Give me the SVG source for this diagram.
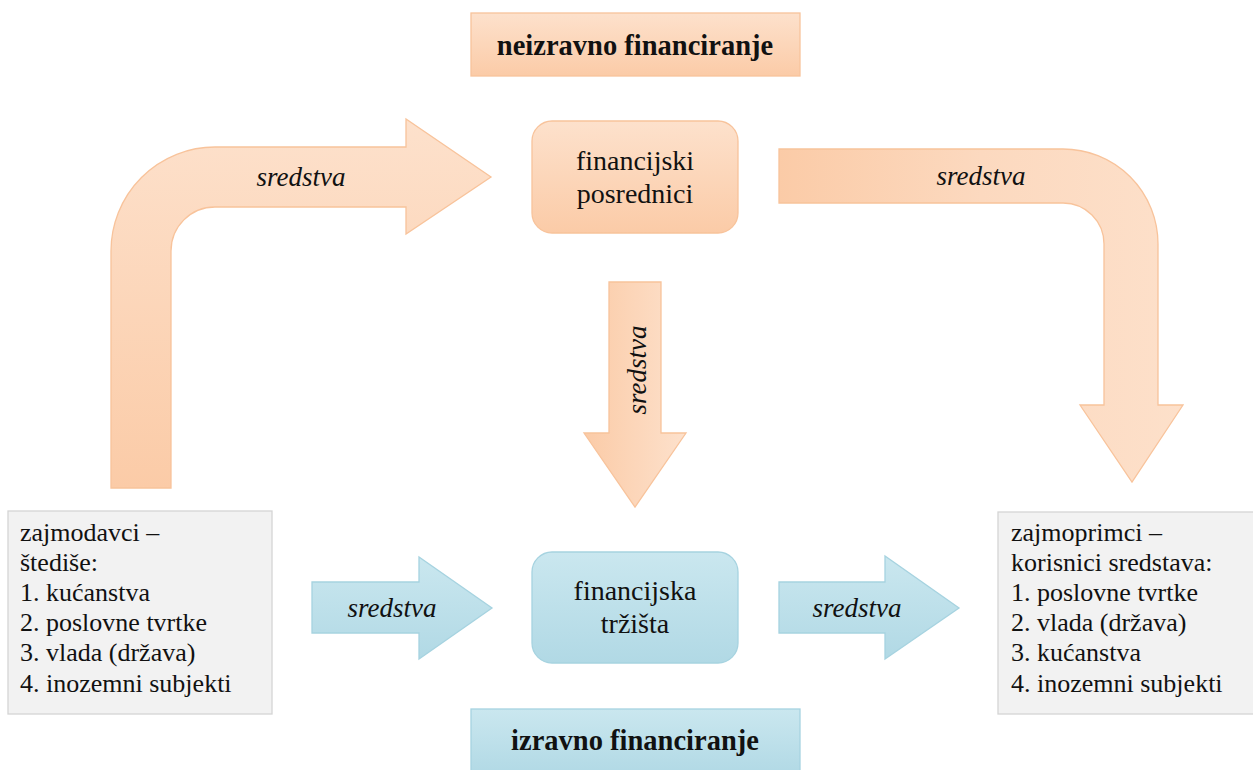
<svg xmlns="http://www.w3.org/2000/svg" width="1253" height="770" viewBox="0 0 1253 770" font-family="Liberation Serif">
<style>
text{font-family:Liberation Serif !important;fill:#111}
.ors{stroke:#f8c39b;stroke-width:1.3}
.blu{stroke:#a6d3e0;stroke-width:1.3}
.gry{fill:#f2f2f2;stroke:#d4d4d4;stroke-width:1.3}
.lab{font-style:italic;font-size:27px}
.nod{font-size:28px}
.ttl{font-size:28.5px;font-weight:bold}
.lst{font-size:26px}
</style>
<defs>
<linearGradient id="gOV" x1="0" y1="0" x2="0" y2="1"><stop offset="0" stop-color="#fde1cc"/><stop offset="1" stop-color="#fbcba7"/></linearGradient>
<linearGradient id="gBV" x1="0" y1="0" x2="0" y2="1"><stop offset="0" stop-color="#cae7ef"/><stop offset="1" stop-color="#b1d9e5"/></linearGradient>
<linearGradient id="gLeft" gradientUnits="userSpaceOnUse" x1="0" y1="119" x2="0" y2="488"><stop offset="0" stop-color="#fde1cc"/><stop offset="1" stop-color="#fbcba7"/></linearGradient>
<linearGradient id="gRight" gradientUnits="userSpaceOnUse" x1="779" y1="0" x2="1183" y2="0"><stop offset="0" stop-color="#fbcba7"/><stop offset="0.5" stop-color="#fcd9bf"/><stop offset="1" stop-color="#fde0ca"/></linearGradient>
<linearGradient id="gDown" gradientUnits="userSpaceOnUse" x1="584" y1="0" x2="686" y2="0"><stop offset="0" stop-color="#fbcba7"/><stop offset="1" stop-color="#fde1cc"/></linearGradient>
</defs>
<g id="connectors">
<path id="arrow-left" class="ors" fill="url(#gLeft)" d="M111,488 L111,251 A104,104 0 0 1 215,147 L406,147 L406,119 L491,177 L406,234 L406,207 L215,207 A44,44 0 0 0 171,251 L171,488 Z"/>
<text class="lab" style="font-family:Liberation Serif" x="301" y="186" text-anchor="middle">sredstva</text>
<path id="arrow-right" class="ors" fill="url(#gRight)" d="M779,149 L1063,149 A95,95 0 0 1 1158,244 L1158,405 L1183,405 L1132,482 L1080,405 L1104,405 L1104,244 A41,41 0 0 0 1063,203 L779,203 Z"/>
<text class="lab" style="font-family:Liberation Serif" x="981" y="185" text-anchor="middle">sredstva</text>
<path id="arrow-down" class="ors" fill="url(#gDown)" d="M609,282 L661,282 L661,433 L686,433 L635,507 L584,433 L609,433 Z"/>
<text class="lab" style="font-family:Liberation Serif" transform="translate(646,370) rotate(-90)" x="0" y="0" text-anchor="middle">sredstva</text>
<path id="arrow-blue-left" class="blu" fill="url(#gBV)" d="M312,582 L419,582 L419,557 L492,608 L419,659 L419,633 L312,633 Z"/>
<text class="lab" style="font-family:Liberation Serif" x="392" y="617" text-anchor="middle">sredstva</text>
<path id="arrow-blue-right" class="blu" fill="url(#gBV)" d="M779,582 L885,582 L885,556 L959,608 L885,659 L885,633 L779,633 Z"/>
<text class="lab" style="font-family:Liberation Serif" x="857" y="617" text-anchor="middle">sredstva</text>
</g>
<g id="title-indirect">
<rect class="ors" fill="url(#gOV)" x="471" y="13" width="329" height="63"/>
<text class="ttl" style="font-family:Liberation Serif" x="635" y="55" text-anchor="middle">neizravno financiranje</text>
</g>
<g id="financial-intermediaries">
<rect class="ors" fill="url(#gOV)" x="532" y="121" width="206" height="112" rx="20"/>
<text class="nod" style="font-family:Liberation Serif" x="635" y="170" text-anchor="middle">financijski</text>
<text class="nod" style="font-family:Liberation Serif" x="635" y="203" text-anchor="middle">posrednici</text>
</g>
<g id="financial-markets">
<rect class="blu" fill="url(#gBV)" x="532" y="552" width="206" height="111" rx="20"/>
<text class="nod" style="font-family:Liberation Serif" x="635" y="600" text-anchor="middle">financijska</text>
<text class="nod" style="font-family:Liberation Serif" x="635" y="633" text-anchor="middle">tržišta</text>
</g>
<g id="title-direct">
<rect class="blu" fill="url(#gBV)" x="471" y="709" width="329" height="66"/>
<text class="ttl" style="font-family:Liberation Serif" x="635" y="750" text-anchor="middle">izravno financiranje</text>
</g>
<g id="lenders">
<rect class="gry" x="8" y="511" width="264" height="203"/>
<text class="lst" style="font-family:Liberation Serif" x="20" y="541">zajmodavci –</text>
<text class="lst" style="font-family:Liberation Serif" x="20" y="571">štediše:</text>
<text class="lst" style="font-family:Liberation Serif" x="20" y="601">1. kućanstva</text>
<text class="lst" style="font-family:Liberation Serif" x="20" y="631">2. poslovne tvrtke</text>
<text class="lst" style="font-family:Liberation Serif" x="20" y="661">3. vlada (država)</text>
<text class="lst" style="font-family:Liberation Serif" x="20" y="692">4. inozemni subjekti</text>
</g>
<g id="borrowers">
<rect class="gry" x="998" y="512" width="262" height="202"/>
<text class="lst" style="font-family:Liberation Serif" x="1011" y="541">zajmoprimci –</text>
<text class="lst" style="font-family:Liberation Serif" x="1011" y="571">korisnici sredstava:</text>
<text class="lst" style="font-family:Liberation Serif" x="1011" y="601">1. poslovne tvrtke</text>
<text class="lst" style="font-family:Liberation Serif" x="1011" y="631">2. vlada (država)</text>
<text class="lst" style="font-family:Liberation Serif" x="1011" y="661">3. kućanstva</text>
<text class="lst" style="font-family:Liberation Serif" x="1011" y="692">4. inozemni subjekti</text>
</g>
</svg>
